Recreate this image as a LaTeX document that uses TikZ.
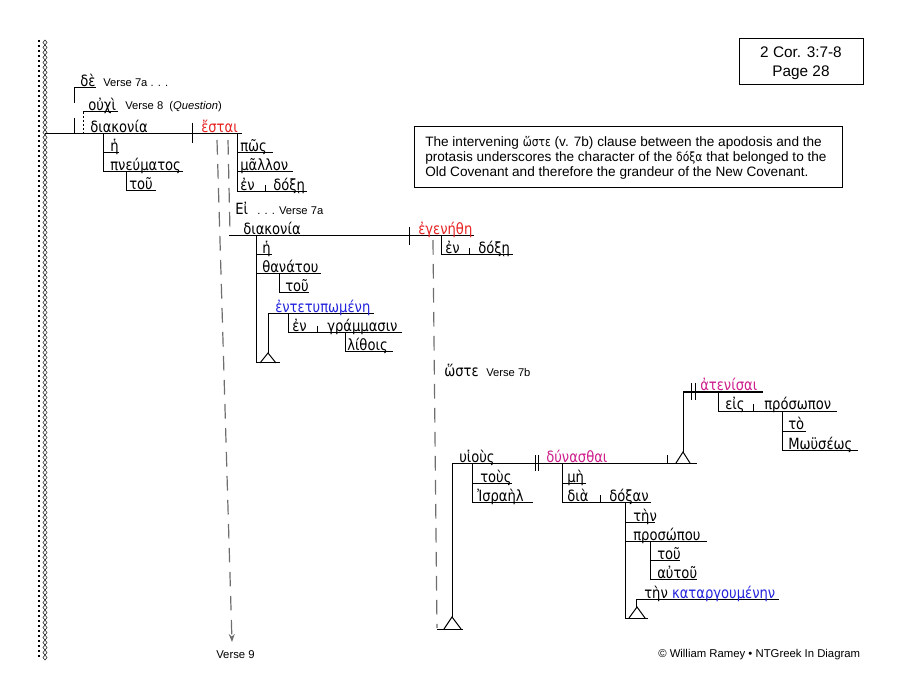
\documentclass[tikz,border=0pt]{standalone}
\usepackage{fontspec}
\setmainfont{Liberation Sans}
\newfontfamily\gk[FakeStretch=0.85]{DejaVu Sans}
\usetikzlibrary{arrows.meta}
\definecolor{gred}{RGB}{230,35,35}
\definecolor{gmag}{RGB}{205,30,140}
\definecolor{gblue}{RGB}{35,35,220}
\definecolor{dgray}{RGB}{110,110,110}
\tikzset{
 ln/.style={line width=0.75pt, black},
 gw/.style={anchor=base west, inner sep=0pt, font=\gk\fontsize{11.6}{12}\selectfont},
 ew/.style={anchor=base west, inner sep=0pt, font=\fontsize{8.4}{9}\selectfont},
 dsh/.style={line width=0.9pt, dgray, dash pattern=on 11pt off 7pt},
}
\begin{document}
\begin{tikzpicture}[x=0.75pt,y=-0.75pt]
\useasboundingbox (0,0) rectangle (900,695);
% left border
\foreach \k in {0,...,123} {
  \fill (38,40+5*\k) rectangle ++(2.2,2.2);
  \draw[line width=0.35pt] (45,40+5*\k)--(47,42.5+5*\k)--(45,45+5*\k)--(43,42.5+5*\k)--cycle;
}
% title box
\draw[line width=0.75pt] (739,39) rectangle (863,85);
\node[anchor=base, inner sep=0pt, font=\fontsize{11.5}{12}\selectfont] (t1) at (801,58) {2 Cor. 3:7-8};
\node[anchor=base, inner sep=0pt, font=\fontsize{11.5}{12}\selectfont] (t2) at (801,77) {Page 28};
% note box
\draw[line width=0.75pt] (414,127) rectangle (842,188);
\begin{scope}[every node/.style={anchor=base west, inner sep=0pt, font=\fontsize{10.2}{11}\selectfont}]
\node (b1) at (425,147) {The intervening {\gk\fontsize{9.5}{10}\selectfont ὥστε} (v. 7b) clause between the apodosis and the};
\node (b2) at (425,162) {protasis underscores the character of the {\gk\fontsize{9.5}{10}\selectfont δόξα} that belonged to the};
\node (b3) at (425,177) {Old Covenant and therefore the grandeur of the New Covenant.};
\end{scope}
% ---------- main clause ----------
\draw[ln] (45,134)--(242,134);
\draw[ln] (192,123)--(192,143);
\draw[ln] (74,88)--(96,88) (74,88)--(74,103) (74,118)--(74,134);
\draw[ln] (83,112)--(118,112);
\draw[line width=0.6pt, dash pattern=on 1.5pt off 1.5pt] (83,112)--(83,134);
\draw[ln] (103,134)--(103,172) (103,153)--(119,153) (103,172)--(183,172);
\draw[ln] (126,172)--(126,191)--(156,191);
\draw[ln] (237,134)--(237,192) (237,153)--(273,153) (237,172)--(293,172) (237,192)--(307,192) (265,185)--(265,192);
\node[gw] (de) at (80,87) {δὲ};
\node[ew] (v7a) at (103,87) {Verse 7a . . .};
\node[gw] (ouchi) at (88,111) {οὐχὶ};
\node[ew] (v8) at (125,110) {Verse 8\ \ (\textit{Question})};
\node[gw] (diak1) at (90,133) {διακονία};
\node[gw, text=gred] (estai) at (201,133) {ἔσται};
\node[gw] (he1) at (110,152) {ἡ};
\node[gw] (pneum) at (110,171) {πνεύματος};
\node[gw] (tou1) at (129,190) {τοῦ};
\node[gw] (pos) at (240,152) {πῶς};
\node[gw] (mallon) at (240,171) {μᾶλλον};
\node[gw] (en1) at (240,191) {ἐν};
\node[gw] (doxe1) at (273,191) {δόξῃ};
% dashed connectors
\draw[dsh,-{Stealth[length=6pt,width=4.5pt]}] (217,140)--(232,642);
\draw[dsh] (228,140)--(230,232);
\node[anchor=base west, inner sep=0pt, font=\fontsize{8.5}{9}\selectfont] (v9) at (216,658) {Verse 9};
% ---------- protasis ----------
\node[gw] (ei) at (235,215) {Εἰ};
\node[ew] (v7a2) at (257,215) {. . . Verse 7a};
\draw[ln] (229,236)--(474,236);
\draw[ln] (409,227)--(409,245);
\draw[ln] (256,236)--(256,363)--(280,363) (256,255)--(272,255) (256,274)--(321,274);
\draw[ln] (279,274)--(279,293)--(309,293);
\draw[ln] (268,314)--(374,314) (268,314)--(268,353);
\draw[ln] (260,363)--(268,353)--(276,363);
\draw[ln] (288,314)--(288,333)--(402,333) (317,326)--(317,333);
\draw[ln] (345,333)--(345,352)--(393,352);
\draw[ln] (441,236)--(441,255)--(513,255) (469,248)--(469,255);
\node[gw] (diak2) at (243,235) {διακονία};
\node[gw, text=gred] (egen) at (418,235) {ἐγενήθη};
\node[gw] (he2) at (262,254) {ἡ};
\node[gw] (thanat) at (262,273) {θανάτου};
\node[gw] (tou2) at (285,292) {τοῦ};
\node[gw, text=gblue] (entet) at (275,313) {ἐντετυπωμένη};
\node[gw] (en2) at (292,332) {ἐν};
\node[gw] (gramm) at (327,332) {γράμμασιν};
\node[gw] (lith) at (347,351) {λίθοις};
\node[gw] (en3) at (445,254) {ἐν};
\node[gw] (doxe2) at (478,254) {δόξῃ};
\draw[dsh] (433,240)--(437,628);
% ---------- hoste clause ----------
\node[gw] (hoste) at (444,377) {ὥστε};
\node[ew] (v7b) at (486,377) {Verse 7b};
\draw[ln] (452,463)--(697,463);
\draw[ln] (535,455)--(535,471) (538,455)--(538,471);
\draw[ln] (452,463)--(452,617);
\draw[ln] (444,629)--(452,617)--(461,629);
\draw[ln] (437,629)--(463,629);
\draw[ln] (472,463)--(472,502)--(533,502) (472,483)--(512,483);
\draw[ln] (562,463)--(562,502)--(651,502) (562,483)--(586,483) (600,495)--(600,502);
\draw[ln] (625,502)--(625,618)--(648,618) (625,522)--(655,522) (625,541)--(707,541);
\draw[ln] (650,541)--(650,579)--(697,579) (650,560)--(680,560);
\draw[ln] (636,599)--(779,599) (636,599)--(636,608);
\draw[ln] (629,618)--(637,607)--(645,618);
\draw[ln] (667,455)--(667,463) (683,392)--(683,453);
\draw[ln] (676,463)--(683,452)--(690,463);
\draw[ln] (683,392)--(763,392) (691,383)--(691,400) (695,383)--(695,400);
\draw[ln] (718,392)--(718,411)--(837,411) (753,404)--(753,411);
\draw[ln] (782,411)--(782,450)--(858,450) (782,431)--(806,431);
\node[gw] (huious) at (459,462) {υἱοὺς};
\node[gw, text=gmag] (dynas) at (546,462) {δύνασθαι};
\node[gw] (tous) at (480,482) {τοὺς};
\node[gw] (israel) at (477,501) {Ἰσραὴλ};
\node[gw] (me) at (567,482) {μὴ};
\node[gw] (dia) at (567,501) {διὰ};
\node[gw] (doxan) at (609,501) {δόξαν};
\node[gw] (ten1) at (633,521) {τὴν};
\node[gw] (prosopou) at (633,540) {προσώπου};
\node[gw] (tou3) at (657,559) {τοῦ};
\node[gw] (autou) at (657,578) {αὐτοῦ};
\node[gw] (katarg) at (644,598) {τὴν \textcolor{gblue}{καταργουμένην}};
\node[gw, text=gmag] (atenis) at (700,391) {ἀτενίσαι};
\node[gw] (eis) at (725,410) {εἰς};
\node[gw] (prosopon) at (764,410) {πρόσωπον};
\node[gw] (to) at (788,430) {τὸ};
\node[gw] (mouseos) at (788,449) {Μωϋσέως};
% copyright
\node[anchor=base west, inner sep=0pt, font=\fontsize{8.5}{9}\selectfont] (copy) at (658,657) {© William Ramey • NTGreek In Diagram};
\end{tikzpicture}
\end{document}
